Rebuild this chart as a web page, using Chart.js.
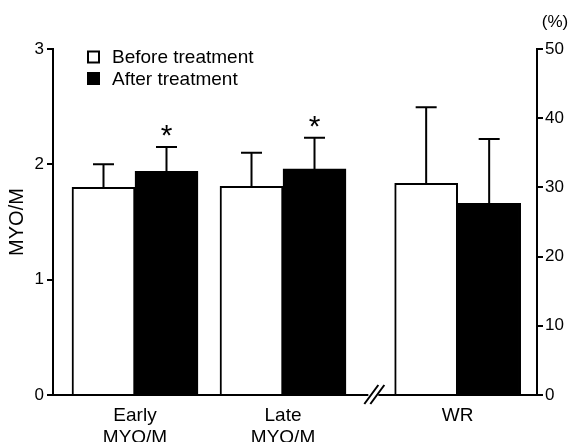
<!DOCTYPE html>
<html>
<head>
<meta charset="utf-8">
<script src="https://cdn.jsdelivr.net/npm/chart.js@4.4.1/dist/chart.umd.min.js"></script>
<style>
  html, body { margin: 0; padding: 0; background: #fff; }
  #wrap { width: 571px; height: 442px; position: relative; }
</style>
</head>
<body>
<div id="wrap"><canvas id="chart"></canvas></div>
<script>
// --- Data ---
const categories = [['Early', 'MYO/M'], ['Late', 'MYO/M'], 'WR'];
const seriesNames = ['Before treatment', 'After treatment'];
// Early / Late are MYO/M ratios (left axis), WR is in % (right axis)
const beforeMean = [1.80, 1.81, 30.6];
const beforeSD = [0.20, 0.29, 11.0];
const afterMean = [1.94, 1.96, 27.7];
const afterSD = [0.21, 0.27, 9.3];
const significant = [true, true, false]; // * on after-treatment bars
const leftTicks = [0, 1, 2, 3];
const rightTicks = [0, 10, 20, 30, 40, 50];

// group centres on the x axis (WR is set apart by the axis break)
const groupPos = [1, 2, 3.18];
const FONT = 'Liberation Sans, Arial, Helvetica, sans-serif';
Chart.defaults.font.family = FONT;
Chart.defaults.color = '#000';

function makeSet(label, means, sds, fill, axis) {
    const onRight = axis === 'y2';
    return {
        label: label,
        yAxisID: axis,
        data: means.map((m, i) => ({ x: groupPos[i], y: (i === 2) === onRight ? m : null })),
        errors: sds,
        backgroundColor: fill,
        borderColor: '#000',
        borderWidth: 2,
        barThickness: 63,
        skipNull: true
    };
}

const datasets = [
    makeSet(seriesNames[0], beforeMean, beforeSD, '#fff', 'y'),
    makeSet(seriesNames[1], afterMean, afterSD, '#000', 'y'),
    makeSet(seriesNames[0], beforeMean, beforeSD, '#fff', 'y2'),
    makeSet(seriesNames[1], afterMean, afterSD, '#000', 'y2')
];

// upper SD whiskers + significance stars
const errorBars = {
    id: 'errorBars',
    afterDatasetsDraw(chart) {
        const ctx = chart.ctx;
        ctx.save();
        ctx.strokeStyle = '#000';
        ctx.lineWidth = 2;
        chart.data.datasets.forEach((ds, di) => {
            const meta = chart.getDatasetMeta(di);
            const scale = chart.scales[ds.yAxisID];
            meta.data.forEach((bar, i) => {
                const v = ds.data[i].y;
                if (v === null) return;
                const yTop = scale.getPixelForValue(v + ds.errors[i]);
                const yBar = scale.getPixelForValue(v);
                ctx.beginPath();
                ctx.moveTo(bar.x, yBar);
                ctx.lineTo(bar.x, yTop);
                ctx.moveTo(bar.x - 10.5, yTop);
                ctx.lineTo(bar.x + 10.5, yTop);
                ctx.stroke();
                if (ds.label === seriesNames[1] && significant[i]) {
                    ctx.fillStyle = '#000';
                    ctx.font = '30px ' + FONT;
                    ctx.textAlign = 'center';
                    ctx.textBaseline = 'alphabetic';
                    ctx.fillText('*', bar.x, yTop - 2);
                }
            });
        });
        ctx.restore();
    }
};

// legend box, axis break and "(%)" unit
const extras = {
    id: 'extras',
    afterDraw(chart) {
        const ctx = chart.ctx;
        const area = chart.chartArea;
        ctx.save();

        // legend
        ctx.font = '19px ' + FONT;
        ctx.textBaseline = 'middle';
        ctx.textAlign = 'left';
        [0, 1].forEach(k => {
            const ds = chart.data.datasets[k];
            const cy = area.top + 8 + k * 21.5;
            const bx = area.left + 34;
            ctx.fillStyle = ds.backgroundColor;
            ctx.fillRect(bx, cy - 6.5, 13, 13);
            ctx.strokeStyle = '#000';
            ctx.lineWidth = 2;
            ctx.strokeRect(bx + 1, cy - 5.5, 11, 11);
            ctx.fillStyle = '#000';
            ctx.fillText(ds.label, bx + 25, cy + 1);
        });

        // axis break between Late and WR
        const xs = chart.scales.x;
        const bx = (xs.getPixelForValue(groupPos[1]) + xs.getPixelForValue(groupPos[2])) / 2 + 4;
        const by = area.bottom;
        ctx.fillStyle = '#fff';
        ctx.fillRect(bx - 6, by - 3, 10, 6);
        ctx.strokeStyle = '#000';
        ctx.lineWidth = 2;
        ctx.beginPath();
        ctx.moveTo(bx - 10, by + 9);
        ctx.lineTo(bx + 4, by - 10);
        ctx.moveTo(bx - 4, by + 9);
        ctx.lineTo(bx + 10, by - 10);
        ctx.stroke();

        // unit of the right axis
        ctx.fillStyle = '#000';
        ctx.font = '17px ' + FONT;
        ctx.textAlign = 'center';
        ctx.textBaseline = 'middle';
        ctx.fillText('(%)', 555, 22);
        ctx.restore();
    }
};

new Chart(document.getElementById('chart'), {
    type: 'bar',
    data: { datasets: datasets },
    options: {
        responsive: true,
        maintainAspectRatio: false,
        animation: false,
        layout: { padding: { top: 49, left: 0, right: 0, bottom: 0 } },
        plugins: { legend: { display: false }, tooltip: { enabled: false } },
        scales: {
            x: {
                type: 'linear',
                offset: false,
                min: 0.446,
                max: 3.716,
                afterBuildTicks: (scale) => { scale.ticks = groupPos.map(v => ({ value: v })); },
                afterFit: (scale) => { scale.height = 47; },
                ticks: {
                    autoSkip: false,
                    maxRotation: 0,
                    padding: 9,
                    font: { size: 19 },
                    callback: (value, index) => categories[index]
                },
                grid: { display: false, drawTicks: false },
                border: { display: true, color: '#000', width: 2 }
            },
            y: {
                position: 'left',
                min: 0,
                max: 3,
                afterBuildTicks: (scale) => { scale.ticks = leftTicks.map(v => ({ value: v })); },
                afterFit: (scale) => { scale.width = 53; },
                ticks: { padding: 3, font: { size: 17 } },
                title: { display: true, text: 'MYO/M', font: { size: 20 }, padding: { top: 5, bottom: 0 } },
                grid: { drawOnChartArea: false, color: '#000', lineWidth: 2, tickLength: 6 },
                border: { color: '#000', width: 2 }
            },
            y2: {
                position: 'right',
                min: 0,
                max: 50,
                afterBuildTicks: (scale) => { scale.ticks = rightTicks.map(v => ({ value: v })); },
                afterFit: (scale) => { scale.width = 34; },
                ticks: { padding: 2, font: { size: 17 } },
                grid: { drawOnChartArea: false, color: '#000', lineWidth: 2, tickLength: 6 },
                border: { color: '#000', width: 2 }
            }
        }
    },
    plugins: [errorBars, extras]
});
</script>
</body>
</html>
